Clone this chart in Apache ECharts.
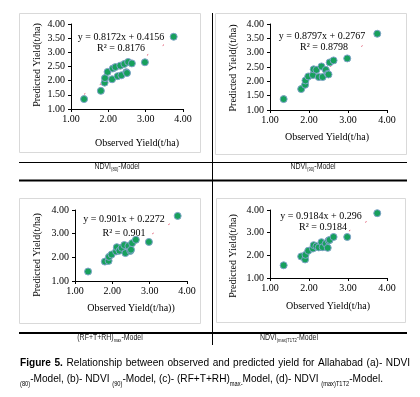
<!DOCTYPE html>
<html>
<head>
<meta charset="utf-8">
<script src="https://cdn.jsdelivr.net/npm/echarts@6/dist/echarts.min.js"></script>
<style>
html, body { margin: 0; padding: 0; background: #fff; }
#chart { width: 420px; height: 397px; }
</style>
</head>
<body>
<div id="chart"></div>
<script>
// Observed yield (same for all four models)
var observed = [1.35, 1.80, 1.90, 1.91, 1.98, 2.10, 2.12, 2.19, 2.25, 2.32, 2.35, 2.43, 2.48, 2.50, 2.53, 2.63, 2.98, 3.75];
// Predicted yield of each model
var predNdvi80 = [1.35, 1.64, 1.93, 2.09, 2.31, 2.05, 2.43, 2.48, 2.16, 2.53, 2.19, 2.59, 2.30, 2.27, 2.66, 2.61, 2.65, 3.55];
var predNdvi90 = [1.38, 1.73, 1.88, 2.03, 2.17, 2.22, 2.42, 2.40, 2.15, 2.52, 2.15, 2.40, 2.26, 2.24, 2.66, 2.73, 2.80, 3.66];
var predWeather = [1.40, 1.82, 1.85, 2.02, 2.12, 2.25, 2.43, 2.28, 2.40, 2.52, 2.18, 2.48, 2.27, 2.32, 2.60, 2.74, 2.65, 3.75];
var predNdviT1T2 = [1.56, 1.95, 1.82, 2.02, 2.20, 2.30, 2.45, 2.40, 2.35, 2.58, 2.36, 2.52, 2.33, 2.65, 2.68, 2.81, 2.81, 3.86];
// Trendline coefficients
var slopes = [0.8172, 0.8797, 0.901, 0.9184];
var intercepts = [0.4156, 0.2767, 0.2272, 0.296];
var rSquared = ['0.8176', '0.8798', '0.901', '0.9184'];
var equations = ['y = 0.8172x + 0.4156', 'y = 0.8797x + 0.2767', 'y = 0.901x + 0.2272', 'y = 0.9184x + 0.296'];
var xTitles = ['Observed Yield(t/ha)', 'Observed Yield(t/ha)', 'Observed Yield(t/ha))', 'Observed Yield(t/ha)'];
var yTitles = ['Predicted Yield(t/ha)', 'Predicted Yield((t/ha)', 'Predicted Yield(t/ha)', 'Predicted Yield(t/ha)'];
var yIntervals = [0.5, 0.5, 1, 1];

var serif = '"Liberation Serif", "DejaVu Serif", serif';
var sans = '"Liberation Sans", Arial, sans-serif';
var squeeze = 0.82;    // fake a narrow face for the model labels
var capSqueeze = 0.88; // and for the caption

// plot areas and text spots of each panel
var panels = [
  { grid: { left: 71, top: 24, width: 112, height: 85 }, box: [19, 13, 181, 139], eq: [121, 37], r2: [121, 48], xt: [137, 143], yt: [37, 65] },
  { grid: { left: 270, top: 24, width: 117, height: 86 }, box: [215, 13, 191, 141], eq: [322, 36], r2: [324, 47], xt: [327, 137], yt: [233, 68] },
  { grid: { left: 75, top: 210, width: 112, height: 71 }, box: [19, 198, 181, 125], eq: [124, 219], r2: [124, 233], xt: [131, 308], yt: [37, 255] },
  { grid: { left: 270, top: 210, width: 117, height: 68 }, box: [216, 198, 189, 124], eq: [321, 216], r2: [323, 227], xt: [328, 306], yt: [233, 256] }
];
var predictions = [predNdvi80, predNdvi90, predWeather, predNdviT1T2];

function pairs(xs, ys) {
  return xs.map(function (x, i) { return [x, ys[i]]; });
}

var grids = [], xAxes = [], yAxes = [], series = [], graphics = [];
var xMin = Math.min.apply(null, observed), xMax = Math.max.apply(null, observed);

panels.forEach(function (p, i) {
  grids.push(p.grid);
  var axisCommon = {
    min: 1, max: 4, gridIndex: i,
    axisLine: { lineStyle: { color: '#000', width: 1 } },
    axisTick: { show: true, length: 3, lineStyle: { color: '#000' } },
    splitLine: { show: false },
    axisLabel: { color: '#000', fontFamily: serif, fontSize: 10, formatter: function (v) { return v.toFixed(2); } }
  };
  xAxes.push(Object.assign({}, axisCommon, { type: 'value', interval: 1, axisLabel: Object.assign({}, axisCommon.axisLabel, { margin: 5 }) }));
  yAxes.push(Object.assign({}, axisCommon, { type: 'value', interval: yIntervals[i], axisLabel: Object.assign({}, axisCommon.axisLabel, { margin: 6 }) }));
  series.push({
    type: 'scatter', xAxisIndex: i, yAxisIndex: i,
    data: pairs(observed, predictions[i]),
    symbolSize: 7,
    itemStyle: { color: '#17a05c', borderColor: '#7fa3c9', borderWidth: 1, opacity: 1 },
    z: 3
  });
  series.push({
    type: 'line', xAxisIndex: i, yAxisIndex: i,
    data: [[xMin, slopes[i] * xMin + intercepts[i]], [xMax, slopes[i] * xMax + intercepts[i]]],
    symbol: 'none',
    lineStyle: { color: '#e0506a', width: 1, type: [1.5, 17] },
    z: 2
  });
  graphics.push({ type: 'rect', shape: { x: p.box[0] + 0.5, y: p.box[1] + 0.5, width: p.box[2], height: p.box[3] }, style: { fill: 'none', stroke: '#d9d9d9', lineWidth: 1 } });
  graphics.push({ type: 'text', x: p.eq[0], y: p.eq[1], style: { text: equations[i], fontFamily: serif, fontSize: 10, fill: '#000', align: 'center', verticalAlign: 'middle' }, z: 10 });
  graphics.push({ type: 'text', x: p.r2[0], y: p.r2[1], style: { text: 'R\u00b2 = ' + rSquared[i], fontFamily: serif, fontSize: 10, fill: '#000', align: 'center', verticalAlign: 'middle' }, z: 10 });
  graphics.push({ type: 'text', x: p.xt[0], y: p.xt[1], style: { text: xTitles[i], fontFamily: serif, fontSize: 10, fill: '#000', align: 'center', verticalAlign: 'middle' } });
  graphics.push({ type: 'text', x: p.yt[0], y: p.yt[1], rotation: Math.PI / 2, style: { text: yTitles[i], fontFamily: serif, fontSize: 10, fill: '#000', align: 'center', verticalAlign: 'middle' } });
});

// table rules
function rule(x1, y1, x2, y2, w) {
  return { type: 'line', shape: { x1: x1, y1: y1, x2: x2, y2: y2 }, style: { stroke: '#000', lineWidth: w } };
}
graphics.push(rule(212.5, 13, 212.5, 345, 1));
graphics.push(rule(19, 162.5, 407, 162.5, 1));
graphics.push(rule(19, 180.5, 407, 180.5, 2));
graphics.push(rule(19, 333, 407, 333, 2));

// model labels under each panel
var modelLabels = [
  ['NDVI', '(80)', '-Model', 117, 167],
  ['NDVI', '(90)', '-Model', 313, 167],
  ['(RF+T+RH)', 'max', '-Model', 110, 338],
  ['NDVI', '(max)T1T2', '-Model', 289, 338]
];
modelLabels.forEach(function (m) {
  graphics.push({
    type: 'text', x: m[3], y: m[4], scaleX: squeeze,
    style: {
      text: m[0] + '{s|' + m[1] + '}' + m[2],
      fontFamily: sans, fontSize: 8.5, fill: '#1a1a1a', lineHeight: 10,
      align: 'center', verticalAlign: 'middle',
      rich: { s: { fontFamily: sans, fontSize: 5, lineHeight: 5, verticalAlign: 'bottom', fill: '#1a1a1a' } }
    }
  });
});

// caption, first line justified word by word
var captionWords = ['Figure', '5.', 'Relationship', 'between', 'observed', 'and', 'predicted', 'yield', 'for', 'Allahabad', '(a)-', 'NDVI'];
var captionBold = 2;
var capSize = 11.5;
var ctx = document.createElement('canvas').getContext('2d');
var widths = captionWords.map(function (w, i) {
  ctx.font = (i < captionBold ? 'bold ' : '') + capSize + 'px ' + sans;
  return ctx.measureText(w).width * capSqueeze;
});
var total = widths.reduce(function (a, b) { return a + b; }, 0);
var gap = (410 - 20 - total) / (captionWords.length - 1);
var cx = 20;
captionWords.forEach(function (w, i) {
  graphics.push({ type: 'text', x: cx, y: 363, scaleX: capSqueeze, style: { text: w, fontFamily: sans, fontSize: capSize, fontWeight: i < captionBold ? 'bold' : 'normal', fill: '#000', align: 'left', verticalAlign: 'middle' } });
  cx += widths[i] + gap;
});
graphics.push({
  type: 'text', x: 20, y: 379, scaleX: capSqueeze,
  style: {
    text: '{s|(80)}-Model, (b)- NDVI {s|(90)}-Model, (c)- (RF+T+RH){s|max-}Model, (d)- NDVI {s|(max)T1T2}-Model.',
    fontFamily: sans, fontSize: capSize, fill: '#000', lineHeight: 18,
    align: 'left', verticalAlign: 'middle',
    rich: { s: { fontFamily: sans, fontSize: 6.5, lineHeight: 6, verticalAlign: 'bottom', fill: '#000' } }
  }
});

var chart = echarts.init(document.getElementById('chart'));
chart.setOption({
  backgroundColor: '#fff',
  animation: false,
  grid: grids,
  xAxis: xAxes,
  yAxis: yAxes,
  series: series,
  graphic: graphics
});
</script>
</body>
</html>
